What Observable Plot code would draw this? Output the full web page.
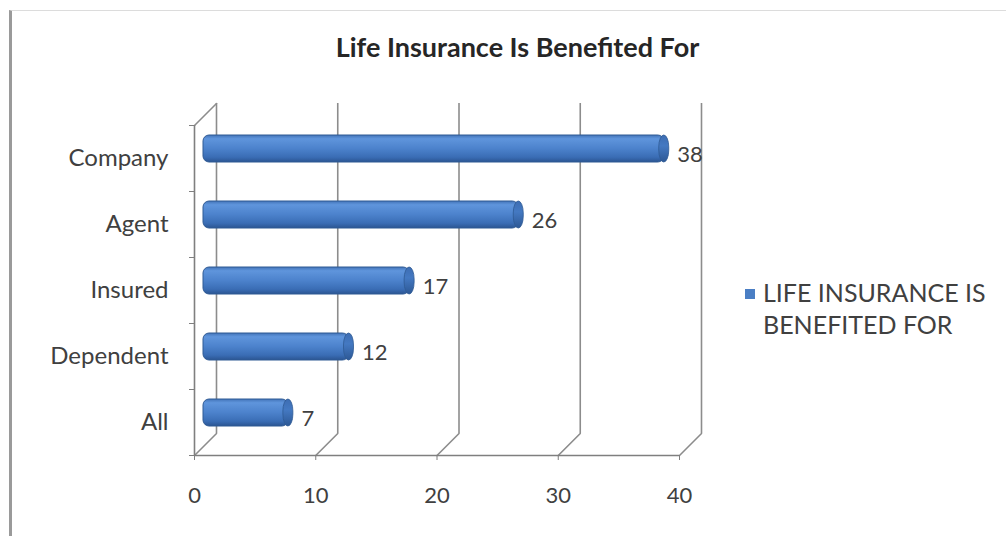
<!DOCTYPE html>
<html>
<head>
<meta charset="utf-8">
<script src="https://cdn.jsdelivr.net/npm/d3@7"></script>
<script src="https://cdn.jsdelivr.net/npm/@observablehq/plot@0.6"></script>
<style>
  html, body { margin: 0; padding: 0; background: #fff; }
  #wrap { position: relative; width: 1006px; height: 536px; overflow: hidden; font-family: Lato, "Open Sans", sans-serif; color: #404040; }
  #border { position: absolute; left: 9px; top: 10px; width: 1000px; height: 540px; border-left: 3px solid #9a9a9a; border-top: 1px solid #dcdcdc; box-sizing: border-box; }
  #title { position: absolute; left: 0; width: 1035px; top: 30px; text-align: center; font-weight: bold; font-size: 27px; color: #262626; }
  #legend { position: absolute; left: 745px; top: 276px; font-size: 25px; line-height: 32px; color: #404040; }
  #legend .sw { display: inline-block; width: 10px; height: 10px; background: #4a7ec4; margin-right: 8px; vertical-align: 3px; }
  #legend .l2 { padding-left: 18px; }
  #chart { position: absolute; left: 0; top: 0; }
</style>
</head>
<body>
<div id="wrap">
  <div id="border"></div>
  <div id="chart"></div>
  <div id="title"></div>
  <div id="legend"></div>
</div>
<script>
const title = "Life Insurance Is Benefited For";
const seriesName = ["LIFE INSURANCE IS", "BENEFITED FOR"];
const categories = ["Company", "Agent", "Insured", "Dependent", "All"];
const values = [38, 26, 17, 12, 7];
const xTicks = [0, 10, 20, 30, 40];

const data = categories.map((c, i) => ({category: c, value: values[i], i}));
const boundaries = d3.range(categories.length + 1);

const gridColor = "#8c8c8c";
const depth = 22;
const diag = Math.hypot(depth, depth);
const lineShape = {draw(context, l) { context.moveTo(0, 0); context.lineTo(0, -l); }};

const plot = Plot.plot({
  width: 1006,
  height: 536,
  marginTop: 125,
  marginBottom: 81,
  marginLeft: 194,
  marginRight: 327,
  style: {fontFamily: "Lato, 'Open Sans', sans-serif", fontSize: "22px", color: "#404040", background: "transparent"},
  x: {domain: [0, 40]},
  y: {domain: [0, categories.length], reverse: true},
  marks: [
    // back wall gridlines
    Plot.ruleX(xTicks, {dx: depth, dy: -depth, stroke: gridColor, strokeWidth: 1.6}),
    // floor diagonals
    Plot.vector(xTicks, {x: d => d, frameAnchor: "bottom", length: diag, rotate: 45, anchor: "start", shape: lineShape, stroke: gridColor, strokeWidth: 1.6}),
    // left wall top diagonal
    Plot.vector([0], {x: d => d, frameAnchor: "top", length: diag, rotate: 45, anchor: "start", shape: lineShape, stroke: gridColor, strokeWidth: 1.6}),
    // front axis lines
    Plot.ruleY([categories.length], {stroke: "#7f7f7f", strokeWidth: 1.6}),
    Plot.ruleX([0], {stroke: "#7f7f7f", strokeWidth: 1.6}),
    Plot.axisX({ticks: xTicks, tickSize: 5, tickPadding: 27, stroke: "#7f7f7f", label: null}),
    Plot.axisY({ticks: boundaries, tickSize: 5, tickFormat: () => "", stroke: "#7f7f7f", label: null}),
    Plot.axisY({ticks: boundaries.slice(0, -1).map(b => b + 0.5), tickSize: 0, tickPadding: 26, fontSize: 24, tickFormat: d => categories[d - 0.5], label: null}),
    // bars (cylinders)
    Plot.rect(data, {x1: 0, x2: "value", y1: "i", y2: d => d.i + 1, insetTop: 20, insetBottom: 19, dx: 9, dy: -10, rx: 6, fill: "url(#barGrad)", stroke: "#2f5a94", strokeWidth: 1}),
    Plot.rect(data, {x1: "value", x2: "value", y1: "i", y2: d => d.i + 1, insetTop: 20, insetBottom: 19, insetLeft: -5, insetRight: -5, dx: 9, dy: -10, rx: 5, ry: 12, fill: "url(#capGrad)", stroke: "#2f5a94", strokeWidth: 0.8}),
    // value labels
    Plot.text(data, {x: "value", y: d => d.i + 0.5, text: d => String(d.value), textAnchor: "start", dx: 22, dy: -4, fill: "#404040", fontSize: 22})
  ]
});

const defs = d3.select(plot).insert("defs", ":first-child");
const g = defs.append("linearGradient").attr("id", "barGrad").attr("x1", 0).attr("y1", 0).attr("x2", 0).attr("y2", 1);
[["0%", "#4374b9"], ["14%", "#5f95dc"], ["50%", "#4c82cc"], ["82%", "#3a6db5"], ["100%", "#2b5592"]].forEach(([o, c]) => g.append("stop").attr("offset", o).attr("stop-color", c));
const g2 = defs.append("linearGradient").attr("id", "capGrad").attr("x1", 0).attr("y1", 0).attr("x2", 0).attr("y2", 1);
[["0%", "#3d6db2"], ["40%", "#4479c2"], ["100%", "#2d5895"]].forEach(([o, c]) => g2.append("stop").attr("offset", o).attr("stop-color", c));

document.getElementById("chart").appendChild(plot);
document.getElementById("title").textContent = title;
document.getElementById("legend").innerHTML =
  `<div><span class="sw"></span>${seriesName[0]}</div><div class="l2">${seriesName[1]}</div>`;
</script>
</body>
</html>
